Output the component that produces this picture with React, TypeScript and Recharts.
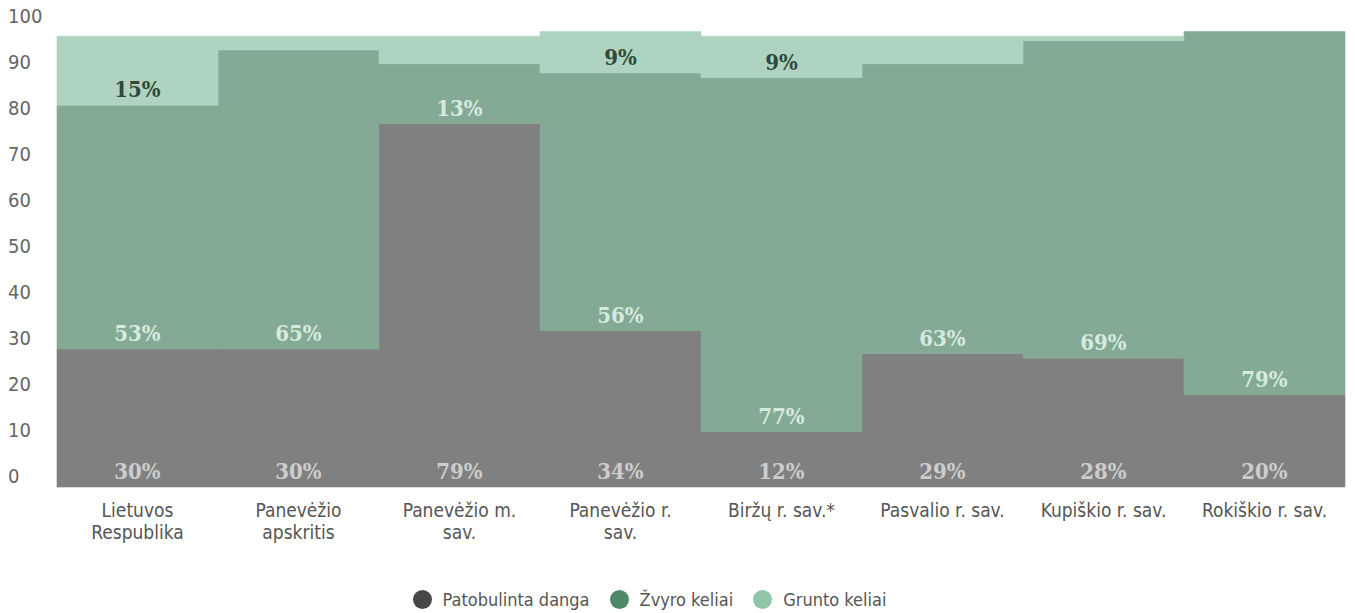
import { BarChart, Bar, XAxis, YAxis, Legend } from "recharts";

const categories = [
  "Lietuvos Respublika",
  "Panevėžio apskritis",
  "Panevėžio m. sav.",
  "Panevėžio r. sav.",
  "Biržų r. sav.*",
  "Pasvalio r. sav.",
  "Kupiškio r. sav.",
  "Rokiškio r. sav.",
];
// how the category names wrap under the bars
const tickLines = [
  ["Lietuvos", "Respublika"],
  ["Panevėžio", "apskritis"],
  ["Panevėžio m.", "sav."],
  ["Panevėžio r.", "sav."],
  ["Biržų r. sav.*"],
  ["Pasvalio r. sav."],
  ["Kupiškio r. sav."],
  ["Rokiškio r. sav."],
];
const improved = [30, 30, 79, 34, 12, 29, 28, 20];
const gravel = [53, 65, 13, 56, 77, 63, 69, 79];
const dirt = [15, 3, 6, 9, 9, 6, 1, 0];
const yTicks = [0, 10, 20, 30, 40, 50, 60, 70, 80, 90, 100];

const series = [
  { key: "improved", name: "Patobulinta danga", values: improved, fill: "#808080", icon: "#474747", text: "#cdcdcd", min: 0 },
  { key: "gravel", name: "Žvyro keliai", values: gravel, fill: "#84a995", icon: "#4e8a6a", text: "#d6ebdf", min: 0 },
  { key: "dirt", name: "Grunto keliai", values: dirt, fill: "#aed3c0", icon: "#8fc5a9", text: "#2f4a3c", min: 8 },
];

const data = categories.map((name, i) => ({
  name,
  improved: improved[i],
  gravel: gravel[i],
  dirt: dirt[i],
}));

const labelFont = "'DejaVu Serif Condensed', 'DejaVu Serif', serif";
const axisFont = "'DejaVu Sans Condensed', 'DejaVu Sans', sans-serif";

function makeLabel(values: number[], color: string, min: number) {
  return (props: any) => {
    const { x, y, width, height, index } = props;
    const v = values[index];
    if (!v || v < min) return null;
    return (
      <text
        x={x + width / 2}
        y={y + height - 8}
        textAnchor="middle"
        fill={color}
        fontFamily={labelFont}
        fontWeight="bold"
        fontSize={22}
      >
        {v}%
      </text>
    );
  };
}

function XTick(props: any) {
  const { x, y, index } = props;
  const lines = tickLines[index] || [];
  return (
    <text x={x} y={y} textAnchor="middle" fill="#555" fontFamily={axisFont} fontSize={19}>
      {lines.map((l, i) => (
        <tspan key={i} x={x} dy={22}>
          {l}
        </tspan>
      ))}
    </text>
  );
}

function YTick(props: any) {
  const { y, payload } = props;
  return (
    <text x={8} y={y - 4} textAnchor="start" fill="#666" fontFamily={axisFont} fontSize={20}>
      {payload.value}
    </text>
  );
}

function LegendBox() {
  return (
    <div
      style={{
        display: "flex",
        justifyContent: "center",
        alignItems: "center",
        height: 24,
        fontFamily: axisFont,
        fontSize: 18,
        color: "#555",
        paddingRight: 26,
      }}
    >
      {series.map((s) => (
        <span key={s.key} style={{ display: "flex", alignItems: "center", marginRight: 20 }}>
          <span
            style={{
              width: 19,
              height: 19,
              borderRadius: "50%",
              background: s.icon,
              display: "inline-block",
              marginRight: 11,
            }}
          />
          {s.name}
        </span>
      ))}
    </div>
  );
}

export default function App() {
  return (
    <div style={{ position: "absolute", left: 0, top: 0, background: "#fff" }}>
      <BarChart
        width={1355}
        height={613}
        data={data}
        margin={{ top: 27, right: 10, left: 0, bottom: 2 }}
        barCategoryGap={0}
        barGap={0}
      >
        <XAxis
          dataKey="name"
          axisLine={false}
          tickLine={false}
          interval={0}
          height={100}
          tick={<XTick />}
        />
        <YAxis
          domain={[0, 100]}
          ticks={yTicks}
          axisLine={false}
          tickLine={false}
          width={57}
          tick={<YTick />}
        />
        <Legend verticalAlign="bottom" height={24} content={() => <LegendBox />} />
        {series.map((s) => (
          <Bar
            key={s.key}
            dataKey={s.key}
            name={s.name}
            stackId="a"
            fill={s.fill}
            stroke={s.fill}
            strokeWidth={0.6}
            isAnimationActive={false}
            label={makeLabel(s.values, s.text, s.min)}
          />
        ))}
      </BarChart>
    </div>
  );
}
